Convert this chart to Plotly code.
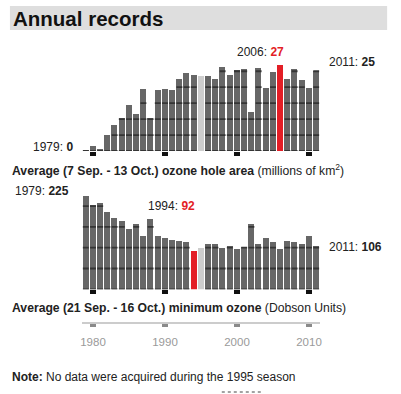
import plotly.graph_objects as go

# ---------------- data ----------------
years = list(range(1979, 2012))
hole_area = [0.3, 1.7, 0.6, 5.0, 8.1, 10.4, 14.6, 11.6, 19.6, 10.4, 19.1, 19.6, 19.2,
             22.7, 24.7, 23.9, 23.5, 23.5, 22.6, 26.3, 23.8, 25.4, 25.7, 12.2, 26.2,
             19.8, 24.9, 27.2, 22.6, 25.7, 22.5, 19.8, 25.2]
min_ozone = [225, 203, 209, 186, 173, 164, 147, 159, 129, 171, 128, 125, 120, 116,
             114, 92, 101, 110, 110, 100, 104, 99, 103, 158, 109, 124, 115, 99, 118,
             115, 109, 129, 106]
hole_highlight_year = 2006
ozone_highlight_year = 1994
no_data_year = 1995
hole_grid = [0, 5, 10, 15, 20, 25]
ozone_grid = [0, 50, 100, 150, 200]
decade_ticks = [1980, 1990, 2000, 2010]
decade_labels = ["1980", "1990", "2000", "2010"]

# ---------------- styles ----------------
FONT = "Liberation Sans, Arial, Helvetica, sans-serif"
BAR = "#676767"
STRIPE = "#353535"
RED = "#e31e26"
NODATA = "#cdcdcd"
W, H = 401, 394
BAR_W = 0.82


def px_x(p):
    return p / W


def px_y(p):
    return 1 - p / H


def colors_for(hl):
    out = []
    for y in years:
        if y == hl:
            out.append(RED)
        elif y == no_data_year:
            out.append(NODATA)
        else:
            out.append(BAR)
    return out


def stripes(values, levels, hl):
    xs, ys = [], []
    for yr, v in zip(years, values):
        if yr == hl or yr == no_data_year:
            continue
        for g in levels:
            if g < v:
                xs += [yr - BAR_W / 2, yr + BAR_W / 2, None]
                ys += [g, g, None]
    return xs, ys


fig = go.Figure()

# top panel
fig.add_trace(go.Bar(x=years, y=hole_area, width=BAR_W, marker_color=colors_for(hole_highlight_year),
                     marker_line_width=0, xaxis="x", yaxis="y", showlegend=False))
sx, sy = stripes(hole_area, hole_grid, hole_highlight_year)
fig.add_trace(go.Scatter(x=sx, y=sy, mode="lines", line=dict(color=STRIPE, width=1.8),
                         xaxis="x", yaxis="y", showlegend=False, hoverinfo="skip"))

# bottom panel
fig.add_trace(go.Bar(x=years, y=min_ozone, width=BAR_W, marker_color=colors_for(ozone_highlight_year),
                     marker_line_width=0, xaxis="x2", yaxis="y2", showlegend=False))
sx, sy = stripes(min_ozone, ozone_grid, ozone_highlight_year)
fig.add_trace(go.Scatter(x=sx, y=sy, mode="lines", line=dict(color=STRIPE, width=1.8),
                         xaxis="x2", yaxis="y2", showlegend=False, hoverinfo="skip"))
# carrier for the bottom time axis
fig.add_trace(go.Scatter(x=years, y=min_ozone, mode="none", xaxis="x3", yaxis="y2",
                         showlegend=False, hoverinfo="skip"))

xdom = [px_x(81), px_x(321)]
xrange = [years[0] - 0.5, years[-1] + 0.5]

common_x = dict(domain=xdom, range=xrange, showgrid=False, zeroline=False, showline=False,
                tickmode="array", tickvals=decade_ticks, ticks="outside", ticklen=3.5,
                tickwidth=6, tickcolor="#111111", showticklabels=False, fixedrange=True)

fig.update_layout(
    width=W, height=H, autosize=False,
    margin=dict(l=0, r=0, t=0, b=0),
    paper_bgcolor="white", plot_bgcolor="rgba(0,0,0,0)",
    bargap=0,
    font=dict(family=FONT, size=12, color="#222222"),
    xaxis=dict(anchor="y", **common_x),
    yaxis=dict(domain=[px_y(151), px_y(151 - 28 * 3.19)], range=[0, 28], visible=False,
               showgrid=False, zeroline=False, fixedrange=True),
    xaxis2=dict(anchor="y2", **common_x),
    yaxis2=dict(domain=[px_y(289.3), px_y(289.3 - 230 * 0.416)], range=[0, 230], visible=False,
                showgrid=False, zeroline=False, fixedrange=True),
    xaxis3=dict(domain=xdom, range=xrange, overlaying="x2", anchor="free", position=px_y(323),
                side="bottom", showgrid=False, zeroline=False, showline=True, linecolor="#cccccc",
                linewidth=2, tickmode="array", tickvals=decade_ticks, ticktext=decade_labels,
                ticks="outside", ticklen=2.5, tickwidth=6, tickcolor="#8a8a8a",
                tickfont=dict(size=11.5, color="#9a9a9a", family=FONT), ticklabelstandoff=6,
                fixedrange=True),
)

# title band
fig.add_shape(type="rect", xref="paper", yref="paper", x0=px_x(8), x1=px_x(389),
              y0=px_y(30), y1=px_y(6), fillcolor="#dedede", line_width=0, layer="below")
# small dotted rule at the bottom
fig.add_shape(type="line", xref="paper", yref="paper", x0=px_x(222), x1=px_x(263),
              y0=px_y(392), y1=px_y(392), line=dict(color="#444444", width=1, dash="dot"))

ann = []


def label(text, x, y, anchor="left", size=12, color="#222222"):
    ann.append(dict(text=text, x=px_x(x), y=px_y(y), xref="paper", yref="paper",
                    xanchor=anchor, yanchor="middle", showarrow=False,
                    font=dict(size=size, color=color, family=FONT)))


hole_hl_val = hole_area[years.index(hole_highlight_year)]
oz_hl_val = min_ozone[years.index(ozone_highlight_year)]

label("<b>Annual records</b>", 9, 18, size=20.5, color="#111111")
label(f"{years[0]}: <b>{round(hole_area[0])}</b>", 74, 147, anchor="right")
label(f"{hole_highlight_year}: <b><span style='color:{RED}'>{round(hole_hl_val)}</span></b>", 287, 52, anchor="right")
label(f"{years[-1]}: <b>{round(hole_area[-1])}</b>", 328, 62)
label("<b>Average (7 Sep. - 13 Oct.) ozone hole area</b> (millions of km<sup>2</sup>)", 8, 170, size=12.2)
label(f"{years[0]}: <b>{min_ozone[0]}</b>", 70, 191, anchor="right")
label(f"{ozone_highlight_year}: <b><span style='color:{RED}'>{oz_hl_val}</span></b>", 197, 206, anchor="right")
label(f"{years[-1]}: <b>{min_ozone[-1]}</b>", 328, 247)
label("<b>Average (21 Sep. - 16 Oct.) minimum ozone</b> (Dobson Units)", 8, 308, size=12.2)
label("<b>Note:</b> No data were acquired during the 1995 season", 8, 377)

fig.update_layout(annotations=ann)

fig.write_html("out.html", config={"displayModeBar": False},
               post_script="document.body.style.margin='0';document.body.style.overflow='hidden';")
